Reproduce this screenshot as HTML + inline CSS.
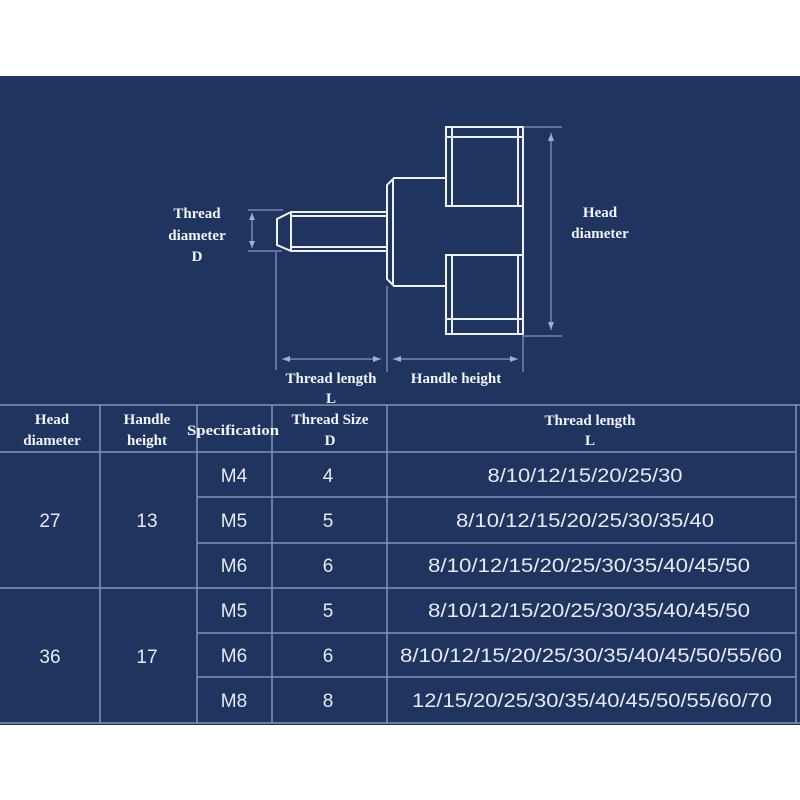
<!DOCTYPE html>
<html><head><meta charset="utf-8"><style>
html,body{margin:0;padding:0;background:#fff;width:800px;height:800px;overflow:hidden}
svg{display:block}
.h{font-family:"Liberation Serif",serif;font-weight:bold;font-size:15px;fill:#f2f4f8;text-anchor:middle}
.d{font-family:"Liberation Sans",sans-serif;font-size:19px;fill:#e6e9ef;text-anchor:middle}
</style></head><body>
<svg width="800" height="800" viewBox="0 0 800 800" xmlns="http://www.w3.org/2000/svg">
<rect x="0" y="0" width="800" height="800" fill="#fff"/>
<rect x="0" y="76" width="800" height="649" fill="#1f3560"/>
<g stroke="#eef1f6" stroke-width="2" fill="none">
<rect x="446" y="127" width="77" height="207"/>
<line x1="452" y1="127" x2="452" y2="206"/><line x1="518" y1="127" x2="518" y2="206"/>
<line x1="452" y1="255" x2="452" y2="334"/><line x1="518" y1="255" x2="518" y2="334"/>
<line x1="446" y1="137" x2="523" y2="137"/><line x1="446" y1="319" x2="523" y2="319"/>
<line x1="446" y1="206" x2="523" y2="206"/><line x1="446" y1="255" x2="523" y2="255"/>
<line x1="446" y1="207" x2="446" y2="254" stroke="#1f3560"/>
<path d="M446 178 H394 L387 185 V279 L394 286 H446"/>
<line x1="393" y1="180" x2="393" y2="284"/>
<path d="M387 212 H291 L277 219 V245 L291 251 H387"/>
<line x1="291" y1="212" x2="291" y2="251"/>
<line x1="291" y1="216" x2="387" y2="216"/><line x1="291" y1="247" x2="387" y2="247"/>
</g>
<g stroke="#9fb0cc" stroke-width="1" fill="#9fb0cc">
<line x1="248" y1="210" x2="283" y2="210"/><line x1="248" y1="251" x2="282" y2="251"/>
<line x1="252" y1="213" x2="252" y2="248"/>
<path d="M252 213 l-3 7 h6z M252 248 l-3 -7 h6z" stroke="none"/>
<line x1="276" y1="252" x2="276" y2="370"/><line x1="387" y1="286" x2="387" y2="372"/>
<line x1="523" y1="334" x2="523" y2="372"/>
<line x1="282" y1="359" x2="381" y2="359"/>
<path d="M282 359 l8 -3 v6z M381 359 l-8 -3 v6z" stroke="none"/>
<line x1="393" y1="359" x2="518" y2="359"/>
<path d="M393 359 l8 -3 v6z M518 359 l-8 -3 v6z" stroke="none"/>
<line x1="523" y1="127" x2="562" y2="127"/><line x1="523" y1="336" x2="562" y2="336"/>
<line x1="551" y1="133" x2="551" y2="330"/>
<path d="M551 133 l-3 8 h6z M551 330 l-3 -8 h6z" stroke="none"/>
</g>
<text class="h" x="197" y="218">Thread</text>
<text class="h" x="197" y="240">diameter</text>
<text class="h" x="197" y="261">D</text>
<text class="h" x="600" y="217">Head</text>
<text class="h" x="600" y="238">diameter</text>
<text class="h" x="331" y="383">Thread length</text>
<text class="h" x="331" y="403">L</text>
<text class="h" x="456" y="383">Handle height</text>
<g stroke="#7f93b5" stroke-width="1.5">
<line x1="0" y1="405" x2="800" y2="405"/>
<line x1="0" y1="452" x2="796" y2="452"/>
<line x1="197" y1="497" x2="796" y2="497"/>
<line x1="197" y1="543" x2="796" y2="543"/>
<line x1="0" y1="588" x2="796" y2="588"/>
<line x1="197" y1="633" x2="796" y2="633"/>
<line x1="197" y1="677" x2="796" y2="677"/>
<line x1="0" y1="723" x2="800" y2="723"/>
<line x1="100" y1="405" x2="100" y2="723"/>
<line x1="197" y1="405" x2="197" y2="723"/>
<line x1="272" y1="405" x2="272" y2="723"/>
<line x1="387" y1="405" x2="387" y2="723"/>
<line x1="796" y1="405" x2="796" y2="723"/>
</g>
<text class="h" x="52" y="424">Head</text><text class="h" x="52" y="445">diameter</text>
<text class="h" x="147" y="424">Handle</text><text class="h" x="147" y="445">height</text>
<text class="h" x="233" y="435" textLength="92" lengthAdjust="spacingAndGlyphs">Specification</text>
<text class="h" x="330" y="424">Thread Size</text><text class="h" x="330" y="445">D</text>
<text class="h" x="590" y="425">Thread length</text><text class="h" x="590" y="445">L</text>
<text class="d" x="50" y="527">27</text><text class="d" x="147" y="527">13</text>
<text class="d" x="50" y="663">36</text><text class="d" x="147" y="663">17</text>
<text class="d" x="234" y="482">M4</text><text class="d" x="328" y="482">4</text>
<text class="d" x="234" y="527">M5</text><text class="d" x="328" y="527">5</text>
<text class="d" x="234" y="572">M6</text><text class="d" x="328" y="572">6</text>
<text class="d" x="234" y="617">M5</text><text class="d" x="328" y="617">5</text>
<text class="d" x="234" y="662">M6</text><text class="d" x="328" y="662">6</text>
<text class="d" x="234" y="707">M8</text><text class="d" x="328" y="707">8</text>
<text class="d" x="585" y="482" textLength="195" lengthAdjust="spacingAndGlyphs">8/10/12/15/20/25/30</text>
<text class="d" x="585" y="527" textLength="258" lengthAdjust="spacingAndGlyphs">8/10/12/15/20/25/30/35/40</text>
<text class="d" x="589" y="572" textLength="322" lengthAdjust="spacingAndGlyphs">8/10/12/15/20/25/30/35/40/45/50</text>
<text class="d" x="589" y="617" textLength="322" lengthAdjust="spacingAndGlyphs">8/10/12/15/20/25/30/35/40/45/50</text>
<text class="d" x="591" y="662" textLength="382" lengthAdjust="spacingAndGlyphs">8/10/12/15/20/25/30/35/40/45/50/55/60</text>
<text class="d" x="592" y="707" textLength="360" lengthAdjust="spacingAndGlyphs">12/15/20/25/30/35/40/45/50/55/60/70</text>
</svg>
</body></html>
